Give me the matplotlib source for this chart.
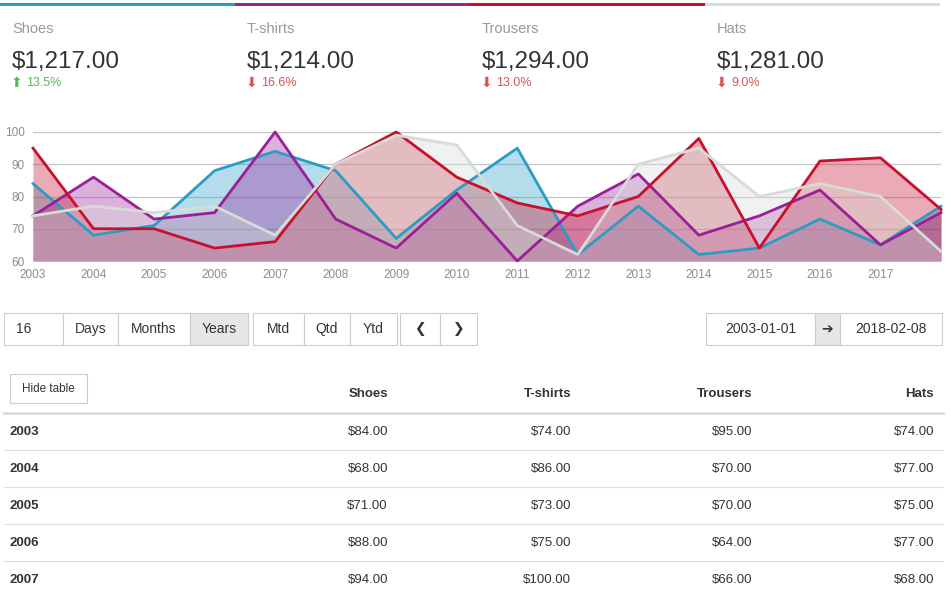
import matplotlib.pyplot as plt
from matplotlib.patches import Rectangle

plt.rcParams['font.family'] = ['Liberation Sans', 'DejaVu Sans']

years = list(range(2003, 2019))
shoes = [84, 68, 71, 88, 94, 88, 67, 82, 95, 62, 77, 62, 64, 73, 65, 77]
tshirts = [74, 86, 73, 75, 100, 73, 64, 81, 60, 77, 87, 68, 74, 82, 65, 75]
trousers = [95, 70, 70, 64, 66, 90, 100, 86, 78, 74, 80, 98, 64, 91, 92, 76]
hats = [74, 77, 75, 77, 68, 90, 99, 96, 71, 62, 90, 95, 80, 84, 80, 63]

names = ['Shoes', 'T-shirts', 'Trousers', 'Hats']
series = [shoes, tshirts, trousers, hats]
colors = ['#2b9cc3', '#9a1f98', '#c8102e', '#d6dcd7']
changes = [13.5, -16.6, -13.0, -9.0]
date_from = '2003-01-01'
date_to = '2018-02-08'
period = '16'
table_rows = 5

ICONS = ('\u276e', '\u276f', '\u2794')

fig = plt.figure(figsize=(9.51, 5.98), dpi=100)
ui = fig.add_axes([0, 0, 1, 1])
ui.set_xlim(0, 951)
ui.set_ylim(598, 0)
ui.axis('off')

# header cards
for i, (name, vals, c, ch) in enumerate(zip(names, series, colors, changes)):
    x0 = 2 + i * 235
    ui.add_patch(Rectangle((x0 - 2, 3), 235, 3, color=c, lw=0))
    ui.text(x0 + 10, 29, name, fontsize=10.5, color='#999999', va='center')
    ui.text(x0 + 10, 62, '${:,.2f}'.format(sum(vals)), fontsize=17.5,
            color='#333333', va='center')
    if ch >= 0:
        arrow, tc = '\u2b06', '#5cb85c'
    else:
        arrow, tc = '\u2b07', '#d9534f'
    ui.text(x0 + 9, 83, arrow, fontsize=10, color=tc, va='center',
            family=['DejaVu Sans'])
    ui.text(x0 + 24, 83, '{:.1f}%'.format(abs(ch)), fontsize=9, color=tc,
            va='center')

# chart
ax = fig.add_axes([33 / 951, 1 - 261 / 598, 908 / 951, 129 / 598])
ax.patch.set_alpha(0)
for vals, c in zip(series, colors):
    ax.fill_between(years, vals, 60, color=c, alpha=0.35, lw=0)
for vals, c in zip(series, colors):
    ax.plot(years, vals, color=c, lw=2, clip_on=False, zorder=3)
ax.set_xlim(2003, 2018)
ax.set_ylim(60, 100)
ax.set_yticks([60, 70, 80, 90, 100])
ax.set_xticks(years[:-1])
ax.grid(axis='y', color='#c4c4c4', lw=0.9)
ax.set_axisbelow(True)
for s in ax.spines.values():
    s.set_visible(False)
ax.tick_params(length=0, labelsize=8.5, labelcolor='#8c8c8c', pad=6)

# button bar
btn_groups = [
    [(period, 4, 63), ('Days', 63, 118), ('Months', 118, 190), ('Years', 190, 248)],
    [('Mtd', 253, 304), ('Qtd', 304, 350), ('Ytd', 350, 397)],
    [(ICONS[0], 400, 440), (ICONS[1], 440, 477)],
    [(date_from, 706, 815), (ICONS[2], 815, 840), (date_to, 840, 942)],
]
for group in btn_groups:
    for label, a, b in group:
        active = label in ('Years', ICONS[2])
        ui.add_patch(Rectangle((a, 313), b - a, 32, lw=0.8,
                               edgecolor='#cccccc',
                               facecolor='#e6e6e6' if active else 'white'))
        if label == period:
            ui.text(a + 12, 329, label, fontsize=10, color='#333333',
                    va='center')
        elif label in ICONS:
            ui.text((a + b) / 2, 329, label, fontsize=10, color='#333333',
                    va='center', ha='center', family=['DejaVu Sans'])
        else:
            ui.text((a + b) / 2, 329, label, fontsize=10, color='#333333',
                    va='center', ha='center')

# table
ui.add_patch(Rectangle((10, 374), 77, 29, lw=0.8, edgecolor='#cccccc',
                       facecolor='white'))
ui.text(48.5, 389, 'Hide table', fontsize=8.5, color='#333333',
        ha='center', va='center')
col_x = [388, 571, 752, 934]
for name, cx in zip(names, col_x):
    ui.text(cx, 394, name, fontsize=9.5, fontweight='bold', color='#333333',
            ha='right', va='center')
ui.plot([4, 943], [413, 413], color='#dddddd', lw=2)
for r in range(table_rows):
    y = 432 + 37 * r
    ui.text(10, y, str(years[r]), fontsize=9.5, fontweight='bold',
            color='#333333', va='center')
    for vals, cx in zip(series, col_x):
        ui.text(cx, y, '${:,.2f}'.format(vals[r]), fontsize=9.5,
                color='#333333', ha='right', va='center')
    if r < table_rows - 1:
        ui.plot([4, 943], [y + 18, y + 18], color='#dddddd', lw=0.8)

fig.savefig('out.png', dpi=100)
